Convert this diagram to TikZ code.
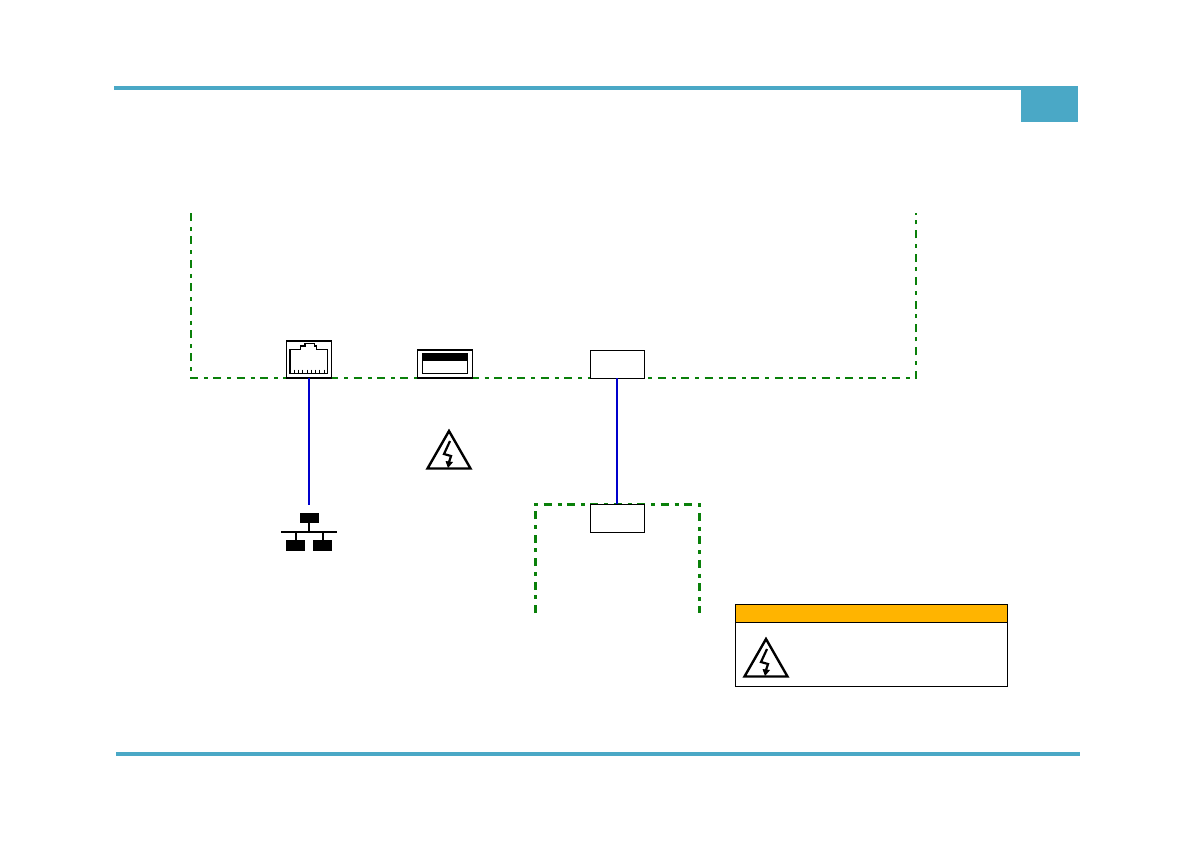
\documentclass[tikz,border=0pt]{standalone}
\usepackage{tikz}
\definecolor{barblue}{HTML}{4AA8C6}
\definecolor{linkgreen}{HTML}{0A800A}
\definecolor{linkblue}{HTML}{0000CC}
\definecolor{headamber}{HTML}{FFB400}
\tikzset{
	warnsign/.pic={
		\draw[line width=1.2pt, line join=miter] (0,0) -- (-21.5,37.5) -- (21.5,37.5) -- cycle;
		\draw[line width=1.1pt] (1,10) -- (-5,23) -- (2,25) -- (0,31);
		\fill (-3.5,30) -- (4,31) -- (-1,37) -- cycle;
	}
}

\begin{document}
\begin{tikzpicture}[x=0.5pt, y=-0.5pt,
	plainbox/.style={draw, fill=white, line width=0.7pt, inner sep=0pt, outer sep=0pt, minimum width=27pt, minimum height=14pt},
	portbox/.style={plainbox, line width=0.7pt},
	blackbox/.style={fill=black, inner sep=0pt, outer sep=0pt, minimum width=9.5pt, minimum height=5.3pt},
	encl/.style={linkgreen, dash pattern=on 4pt off 3pt on 2pt off 2.7pt},
	link/.style={linkblue, line width=1.1pt}]
	\useasboundingbox (0,0) rectangle (1192,840);
	\fill[barblue] (114,86) rectangle (1021,90);
	\fill[barblue] (1021,86) rectangle (1078,122);
	\fill[barblue] (116,752) rectangle (1080,756);

	\coordinate (topleft) at (191,213);
	\coordinate (topright) at (916,213);
	\coordinate (subleft) at (535,613);
	\coordinate (subright) at (699,613);
	\draw[encl, line width=1pt] (topleft) -- (191,378) -- (916,378) -- (topright);
	\draw[encl, line width=1.5pt] (subleft) -- (535,504.5) -- (699,504.5) -- (subright);

	\node[portbox, minimum width=22.7pt, minimum height=18.4pt] (rjport) at (309,359.5) {};
	\fill (286.2,377) rectangle (331.8,379);
	\draw[line width=0.7pt] (290,373.5) -- (290,349.5) -- (300.7,349.5) -- (300.7,346) -- (305,346) -- (305,343.5) -- (314.3,343.5) -- (314.3,346) -- (316.7,346) -- (316.7,349.5) -- (327.7,349.5) -- (327.7,373.5) -- cycle;
	\foreach \x in {0,...,7} {\draw[line width=0.4pt] ({294+\x*4.3},369.5) -- ({294+\x*4.3},373.5);}

	\node[portbox, minimum width=27.5pt, minimum height=13.9pt] (usbport) at (444.8,364) {};
	\fill (417,377) rectangle (472.6,379);
	\draw[line width=0.7pt] (422.3,354) rectangle (467.7,373.3);
	\fill (422.3,354) rectangle (467.7,361);

	\node[plainbox] (upperjack) at (617.3,364.3) {};
	\node[plainbox] (lowerjack) at (617.3,518.3) {};

	\node[blackbox] (netswitch) at (309,518) {};
	\node[blackbox] (netleft) at (295.5,545.3) {};
	\node[blackbox] (netright) at (322.8,545.3) {};
	\coordinate (netbus) at (309,531.5);
	\coordinate (nettop) at (309,505);
	\draw[line width=1pt] (281,531.5) -- (336.7,531.5);
	\draw[line width=1pt] (netswitch) -- (netbus);
	\draw[line width=1pt] (295.5,531.5) -- (netleft);
	\draw[line width=1pt] (322.8,531.5) -- (netright);

	\draw[link] (rjport.south) -- (nettop);
	\draw[link] (upperjack.south) -- (lowerjack.north);

	\pic at (449,431) {warnsign};

	\node[draw, fill=headamber, line width=0.6pt, inner sep=0pt, outer sep=0pt, minimum width=136pt, minimum height=9pt] (warnhead) at (871.3,613.3) {};
	\node[draw, line width=0.6pt, inner sep=0pt, outer sep=0pt, minimum width=136pt, minimum height=32pt, anchor=north] (warnbody) at (warnhead.south) {};
	\pic at (766,639) {warnsign};
\end{tikzpicture}
\end{document}
